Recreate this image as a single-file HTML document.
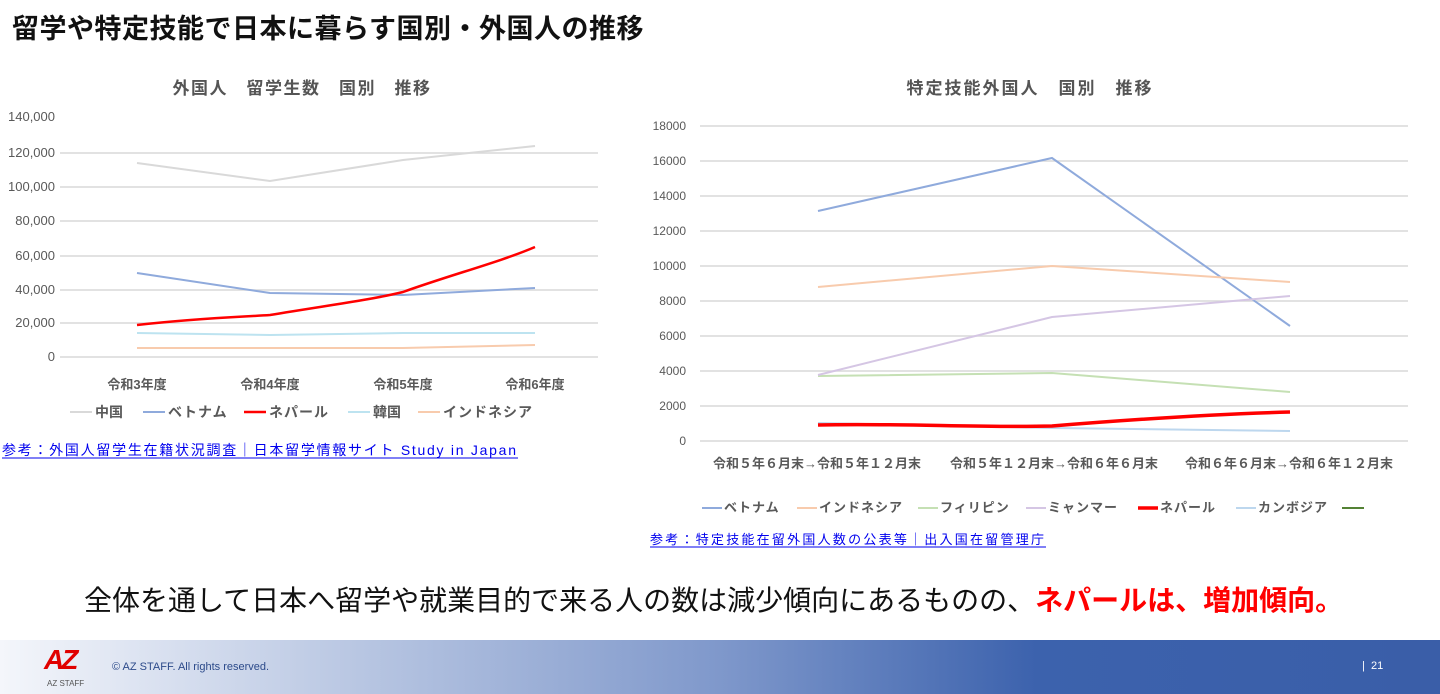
<!DOCTYPE html>
<html><head><meta charset="utf-8"><style>
body{margin:0;width:1440px;height:694px;overflow:hidden;background:#fff;font-family:"Liberation Sans","Noto Sans CJK JP",sans-serif;position:relative}
.abs{position:absolute;white-space:nowrap}
</style></head><body>
<div class="abs" style="left:12px;top:7px;font-size:27px;font-weight:bold;color:#111;letter-spacing:0.5px">留学や特定技能で日本に暮らす国別・外国人の推移</div>
<svg width="1440" height="694" style="position:absolute;left:0;top:0" font-family="Liberation Sans, Noto Sans CJK JP, sans-serif">
<g font-size="17" font-weight="bold" fill="#555" text-anchor="middle">
<text x="302" y="94" letter-spacing="1.5">外国人　留学生数　国別　推移</text>
<text x="1030" y="94" letter-spacing="2">特定技能外国人　国別　推移</text>
</g>
<g stroke="#d9d9d9" stroke-width="1.5">
<line x1="60" x2="598" y1="357" y2="357"/><line x1="60" x2="598" y1="323" y2="323"/><line x1="60" x2="598" y1="290" y2="290"/><line x1="60" x2="598" y1="256" y2="256"/><line x1="60" x2="598" y1="221" y2="221"/><line x1="60" x2="598" y1="187" y2="187"/><line x1="60" x2="598" y1="153" y2="153"/>
</g>
<g font-size="13" fill="#595959" text-anchor="end">
<text x="55" y="121">140,000</text><text x="55" y="157">120,000</text><text x="55" y="191">100,000</text><text x="55" y="225">80,000</text><text x="55" y="260">60,000</text><text x="55" y="294">40,000</text><text x="55" y="327">20,000</text><text x="55" y="361">0</text>
</g>
<g font-size="13" fill="#595959" text-anchor="middle" font-weight="bold">
<text x="137" y="389">令和3年度</text><text x="270" y="389">令和4年度</text><text x="403" y="389">令和5年度</text><text x="535" y="389">令和6年度</text>
</g>
<g fill="none" stroke-width="2">
<polyline stroke="#d9d9d9" points="137,163 270,181 403,160 535,146"/>
<polyline stroke="#8faadc" points="137,273 270,293 403,295 535,288"/>
<polyline stroke="#bde3f0" points="137,333 270,335 403,333 535,333"/>
<polyline stroke="#f8cbad" points="137,348 270,348 403,348 535,345"/>
<path stroke="#ff0000" stroke-width="2.5" d="M137,325 C200,318 240,317 270,315 C330,305 370,300 403,292 C450,275 500,262 535,247"/>
</g>
<g font-size="14" fill="#595959" font-weight="bold">
<line x1="70" x2="92" y1="412" y2="412" stroke="#d9d9d9" stroke-width="2"/><text x="95" y="417">中国</text>
<line x1="143" x2="165" y1="412" y2="412" stroke="#8faadc" stroke-width="2"/><text x="168" y="417" letter-spacing="1">ベトナム</text>
<line x1="244" x2="266" y1="412" y2="412" stroke="#f00" stroke-width="2.5"/><text x="269" y="417" letter-spacing="1">ネパール</text>
<line x1="348" x2="370" y1="412" y2="412" stroke="#bde3f0" stroke-width="2"/><text x="373" y="417">韓国</text>
<line x1="418" x2="440" y1="412" y2="412" stroke="#f8cbad" stroke-width="2"/><text x="443" y="417" letter-spacing="1">インドネシア</text>
</g>
<text x="2" y="455" font-size="14" fill="#0000ee" textLength="514">参考：外国人留学生在籍状況調査｜日本留学情報サイト Study in Japan</text>
<line x1="2" x2="518" y1="458" y2="458" stroke="#0000ee"/>
<g stroke="#d9d9d9" stroke-width="1.5">
<line x1="700" x2="1408" y1="441" y2="441"/><line x1="700" x2="1408" y1="406" y2="406"/><line x1="700" x2="1408" y1="371" y2="371"/><line x1="700" x2="1408" y1="336" y2="336"/><line x1="700" x2="1408" y1="301" y2="301"/><line x1="700" x2="1408" y1="266" y2="266"/><line x1="700" x2="1408" y1="231" y2="231"/><line x1="700" x2="1408" y1="196" y2="196"/><line x1="700" x2="1408" y1="161" y2="161"/><line x1="700" x2="1408" y1="126" y2="126"/>
</g>
<g font-size="12" fill="#595959" text-anchor="end">
<text x="686" y="130">18000</text><text x="686" y="165">16000</text><text x="686" y="200">14000</text><text x="686" y="235">12000</text><text x="686" y="270">10000</text><text x="686" y="305">8000</text><text x="686" y="340">6000</text><text x="686" y="375">4000</text><text x="686" y="410">2000</text><text x="686" y="445">0</text>
</g>
<g font-size="13" fill="#595959" text-anchor="middle" font-weight="bold">
<text x="817" y="468">令和５年６月末→令和５年１２月末</text><text x="1054" y="468">令和５年１２月末→令和６年６月末</text><text x="1289" y="468">令和６年６月末→令和６年１２月末</text>
</g>
<g fill="none" stroke-width="2">
<polyline stroke="#8faadc" points="818,211 1052,158 1290,326"/>
<polyline stroke="#f8cbad" points="818,287 1052,266 1290,282"/>
<polyline stroke="#c5e0b4" points="818,376 1052,373 1290,392"/>
<polyline stroke="#d5c6e4" points="818,375 1052,317 1290,296"/>
<polyline stroke="#bdd7ee" points="818,423 1052,428 1290,431"/>
<path stroke="#ff0000" stroke-width="3.5" d="M818,425 C900,423 980,428 1052,426 C1150,418 1220,414 1290,412"/>
</g>
<g font-size="13" fill="#595959" font-weight="bold">
<line x1="702" x2="722" y1="508" y2="508" stroke="#8faadc" stroke-width="2"/><text x="724" y="512" letter-spacing="1">ベトナム</text>
<line x1="797" x2="817" y1="508" y2="508" stroke="#f8cbad" stroke-width="2"/><text x="819" y="512" letter-spacing="1">インドネシア</text>
<line x1="918" x2="938" y1="508" y2="508" stroke="#c5e0b4" stroke-width="2"/><text x="940" y="512" letter-spacing="1">フィリピン</text>
<line x1="1026" x2="1046" y1="508" y2="508" stroke="#d5c6e4" stroke-width="2"/><text x="1048" y="512" letter-spacing="1">ミャンマー</text>
<line x1="1138" x2="1158" y1="508" y2="508" stroke="#f00" stroke-width="3.5"/><text x="1160" y="512" letter-spacing="1">ネパール</text>
<line x1="1236" x2="1256" y1="508" y2="508" stroke="#bdd7ee" stroke-width="2"/><text x="1258" y="512" letter-spacing="1">カンボジア</text>
<line x1="1342" x2="1364" y1="508" y2="508" stroke="#548235" stroke-width="2"/>
</g>
<text x="650" y="544" font-size="13" fill="#0000ee" textLength="394">参考：特定技能在留外国人数の公表等｜出入国在留管理庁</text>
<line x1="650" x2="1046" y1="547" y2="547" stroke="#0000ee"/>
</svg>
<div class="abs" style="left:84px;top:579px;font-size:28px;color:#111;letter-spacing:0">全体を通して日本へ留学や就業目的で来る人の数は減少傾向にあるものの、<span style="color:#ff0000;font-weight:bold">ネパールは、増加傾向。</span></div>
<div class="abs" style="left:0;top:640px;width:1440px;height:54px;background:linear-gradient(90deg,#f4f6fb 0%,#b8c6e2 25%,#7f98cb 50%,#3c62ad 72%,#3a5ea8 100%)"></div>
<div class="abs" style="left:44px;top:644px;font-size:28px;font-weight:bold;color:#e00000;letter-spacing:-3px;font-style:italic">AZ</div>
<div class="abs" style="left:47px;top:679px;font-size:8px;color:#555">AZ STAFF</div>
<div class="abs" style="left:112px;top:661px;font-size:11px;color:#2c4a8a">© AZ STAFF.  All rights reserved.</div>
<div class="abs" style="left:1362px;top:660px;font-size:11px;color:#fff">|&nbsp; 21</div>
</body></html>
